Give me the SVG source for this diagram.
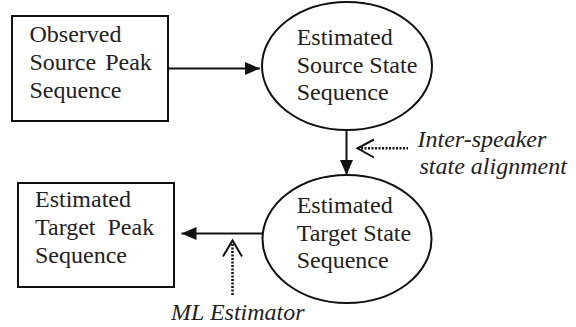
<svg xmlns="http://www.w3.org/2000/svg" width="576" height="327" viewBox="0 0 576 327">
<style>
.box{fill:#fff;stroke:#111;stroke-width:2}
.ell{fill:#fff;stroke:#111;stroke-width:2}
.t{font-family:"Liberation Serif","Times New Roman",serif;font-size:24px;fill:#222}
.it{font-family:"Liberation Serif","Times New Roman",serif;font-size:24px;font-style:italic;fill:#222}
.ln{stroke:#111;stroke-width:2;fill:none}
.dot{stroke:#111;stroke-width:2.5;fill:none;stroke-dasharray:2 1.5}
.chev{stroke:#111;stroke-width:2;fill:none}
</style>
<defs>
<marker id="ah" markerUnits="userSpaceOnUse" markerWidth="16" markerHeight="14" refX="15" refY="6.5" orient="auto">
<path d="M0,0 L15,6.5 L0,13 z" fill="#111"/>
</marker>
</defs>
<rect width="576" height="327" fill="#fff"/>
<g id="connectors">
<line class="ln" x1="168" y1="68.5" x2="260" y2="68.5" marker-end="url(#ah)"/>
<line class="ln" x1="346.5" y1="130" x2="346.5" y2="175" marker-end="url(#ah)"/>
<line class="ln" x1="262" y1="233.5" x2="181.5" y2="233.5" marker-end="url(#ah)"/>
<line class="dot" x1="361" y1="148.3" x2="408" y2="148.3"/>
<polyline class="chev" points="374,139.5 357.5,148.3 374,157.5"/>
<line class="dot" x1="232.5" y1="244" x2="232.5" y2="295"/>
<polyline class="chev" points="223,256.5 232.5,240.5 242,256.5"/>
</g>
<g id="observed-source">
<rect class="box" x="12" y="16" width="156" height="105"/>
<text class="t" x="29.5" y="42">Observed</text>
<text class="t" x="29.5" y="70" word-spacing="3">Source Peak</text>
<text class="t" x="29.5" y="97.5">Sequence</text>
</g>
<g id="est-source-state">
<ellipse class="ell" cx="347" cy="66" rx="85" ry="64"/>
<text class="t" x="296.7" y="45">Estimated</text>
<text class="t" x="296.7" y="73">Source State</text>
<text class="t" x="296.7" y="100">Sequence</text>
</g>
<g id="est-target-state">
<ellipse class="ell" cx="347" cy="239" rx="84.5" ry="64"/>
<text class="t" x="296.7" y="213">Estimated</text>
<text class="t" x="296.7" y="241">Target State</text>
<text class="t" x="296.7" y="268">Sequence</text>
</g>
<g id="est-target-peak">
<rect class="box" x="18" y="183" width="156" height="104"/>
<text class="t" x="35" y="207">Estimated</text>
<text class="t" x="35" y="235" word-spacing="6">Target Peak</text>
<text class="t" x="35" y="263">Sequence</text>
</g>
<g id="labels">
<text class="it" x="417.5" y="147">Inter-speaker</text>
<text class="it" x="419.5" y="174">state alignment</text>
<text class="it" x="171" y="320">ML Estimator</text>
</g>
</svg>
